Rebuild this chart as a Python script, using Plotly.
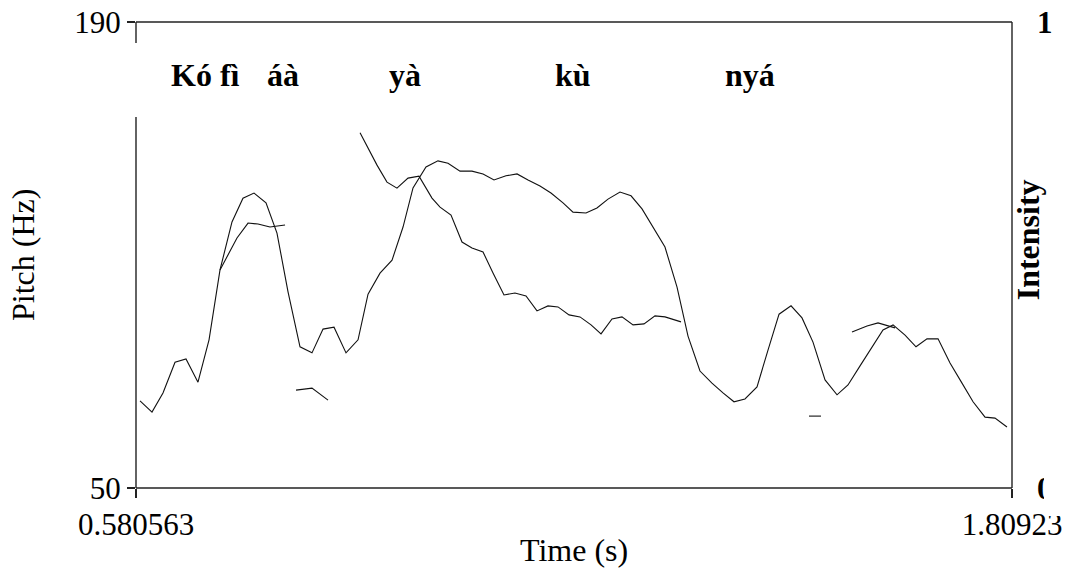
import plotly.graph_objects as go

# ---- data ----
T_MIN, T_MAX = 0.580563, 1.80923
F_MIN, F_MAX = 50, 190

int_t = [0.5862,0.6030,0.6184,0.6353,0.6507,0.6675,0.6830,0.6984,0.7152,0.7306,
         0.7461,0.7629,0.7783,0.7938,0.8106,0.8274,0.8429,0.8583,0.8751,0.8920,
         0.9060,0.9228,0.9397,0.9551,0.9691,0.9873,1.0041,1.0182,1.0350,1.0518,
         1.0673,1.0827,1.0995,1.1150,1.1304,1.1472,1.1626,1.1795,1.1935,1.2117,
         1.2271,1.2426,1.2594,1.2749,1.2903,1.3057,1.3225,1.3394,1.3548,1.3716,
         1.3884,1.4039,1.4193,1.4347,1.4516,1.4670,1.4825,1.4993,1.5147,1.5301,
         1.5470,1.5638,1.5792,1.5961,1.6129,1.6283,1.6424,1.6592,1.6746,1.6900,
         1.7055,1.7223,1.7391,1.7546,1.7714,1.7854,1.8022]
int_v = [0.187,0.163,0.204,0.270,0.277,0.227,0.318,0.468,0.571,0.622,
         0.633,0.612,0.547,0.421,0.303,0.290,0.341,0.345,0.290,0.318,
         0.416,0.461,0.489,0.560,0.644,0.689,0.702,0.697,0.680,0.680,
         0.674,0.661,0.670,0.674,0.661,0.648,0.633,0.612,0.592,0.590,
         0.601,0.620,0.635,0.627,0.599,0.560,0.517,0.431,0.326,0.251,
         0.225,0.204,0.185,0.191,0.217,0.296,0.373,0.391,0.365,0.313,
         0.232,0.200,0.221,0.262,0.303,0.339,0.350,0.328,0.303,0.320,
         0.320,0.268,0.225,0.185,0.152,0.150,0.131]

pitch_a_t = [0.6984,0.7222,0.7377,0.7517,0.7685,0.7896]
pitch_a_f = [115.5,125.1,129.6,129.3,128.4,129.0]
pitch_b_t = [0.8050,0.8274,0.8499]
pitch_b_f = [79.4,80.0,76.4]
pitch_c_t = [0.8948,0.9186,0.9326,0.9466,0.9621,0.9775,0.9957,1.0070,1.0224,1.0378,
             1.0518,1.0673,1.0813,1.0967,1.1121,1.1276,1.1430,1.1584,1.1725,1.1879,
             1.2033,1.2188,1.2328,1.2482,1.2622,1.2777,1.2931,1.3085,1.3225,1.3450]
pitch_c_f = [156.7,147.0,141.9,140.1,143.1,143.7,137.1,134.4,132.0,123.9,
             122.1,120.9,114.6,108.0,108.6,107.7,103.2,104.7,104.4,102.0,
             101.4,99.0,96.3,100.8,101.4,99.0,99.3,101.7,101.4,99.9]
pitch_d_t = [1.5245,1.5413]
pitch_d_f = [71.6,71.6]
pitch_e_t = [1.5848,1.6059,1.6213,1.6339,1.6452]
pitch_e_f = [96.9,98.7,99.6,98.7,98.1]

words = ["Kó fì", "áà", "yà", "kù", "nyá"]
word_t = [0.6787, 0.7868, 0.9579, 1.1935, 1.4418]

# ---- build ----
segments = [(pitch_a_t, pitch_a_f), (pitch_b_t, pitch_b_f), (pitch_c_t, pitch_c_f),
            (pitch_d_t, pitch_d_f), (pitch_e_t, pitch_e_f)]
px, py = [], []
for ts, fs in segments:
    px += ts + [None]
    py += fs + [None]

FONT = "Liberation Serif, Times New Roman, serif"
LC = "#111111"
TS = 31  # tick label size
AS = 32  # other text size

fig = go.Figure()
fig.add_trace(go.Scatter(x=int_t, y=int_v, mode="lines", yaxis="y2",
                         line=dict(color=LC, width=1.1), hoverinfo="skip", showlegend=False))
fig.add_trace(go.Scatter(x=px, y=py, mode="lines", connectgaps=False,
                         line=dict(color=LC, width=1.1), hoverinfo="skip", showlegend=False))

fig.update_layout(
    width=1073, height=574,
    margin=dict(l=136, r=61, t=22, b=86, pad=0, autoexpand=False),
    paper_bgcolor="white", plot_bgcolor="white",
    font=dict(family=FONT, size=AS, color="black"),
    showlegend=False,
    hovermode=False,
    xaxis=dict(range=[T_MIN, T_MAX], tickvals=[T_MIN, T_MAX], ticktext=["0.580563", "1.80923"],
               ticks="outside", ticklen=9, tickwidth=1.4, tickcolor="#222", automargin=False,
               showline=False, showgrid=False, zeroline=False,
               tickfont=dict(family=FONT, size=TS, color="black")),
    yaxis=dict(range=[F_MIN, F_MAX], tickvals=[F_MIN, F_MAX], ticktext=["50", "190"],
               ticks="outside", ticklen=8, tickwidth=1.4, tickcolor="#222", automargin=False,
               showline=False, showgrid=False, zeroline=False,
               tickfont=dict(family=FONT, size=TS, color="black")),
    yaxis2=dict(range=[0, 1], overlaying="y", side="right", tickvals=[0, 1], ticktext=["0", "1"],
                ticks="", showline=False, showgrid=False, zeroline=False, automargin=False,
                ticklabelstandoff=24,
                tickfont=dict(family=FONT, size=TS, color="black", weight="bold")),
)

# frame (left spine interrupted as in the reference)
fc = "#222222"
fw = 1.4
frame = [
    dict(x0=0, x1=1, y0=1, y1=1),
    dict(x0=1, x1=1, y0=0, y1=1),
    dict(x0=0, x1=1, y0=0, y1=0),
    dict(x0=0, x1=0, y0=0.955, y1=1),
    dict(x0=0, x1=0, y0=0, y1=0.796),
]
for s in frame:
    fig.add_shape(type="line", xref="paper", yref="paper", layer="above",
                  line=dict(color=fc, width=fw), **s)

# cut-off of the bottom-right label at the picture edge
fig.add_shape(type="rect", xref="paper", yref="paper", layer="above",
              x0=1.0365, x1=1.08, y0=-0.06, y1=0.06,
              line=dict(width=0), fillcolor="white")

# word labels
for w, t in zip(words, word_t):
    fig.add_annotation(x=t, y=0.886, xref="x", yref="paper", text=f"<b>{w}</b>",
                       xanchor="center", yanchor="middle",
                       showarrow=False, font=dict(family=FONT, size=AS, color="black"))

# axis titles
fig.add_annotation(x=0.5, y=-0.133, xref="paper", yref="paper", text="Time (s)",
                   xanchor="center", yanchor="middle",
                   showarrow=False, font=dict(family=FONT, size=AS, color="black"))
fig.add_annotation(x=-0.129, y=0.5, xref="paper", yref="paper", text="Pitch (Hz)", textangle=-90,
                   xanchor="center", yanchor="middle",
                   showarrow=False, font=dict(family=FONT, size=AS, color="black"))
fig.add_annotation(x=1.0185, y=0.532, xref="paper", yref="paper", text="<b>Intensity</b>", textangle=-90,
                   xanchor="center", yanchor="middle",
                   showarrow=False, font=dict(family=FONT, size=AS, color="black"))

fig.write_html("out.html", config={"displayModeBar": False, "staticPlot": True},
               post_script="document.body.style.margin='0';")
